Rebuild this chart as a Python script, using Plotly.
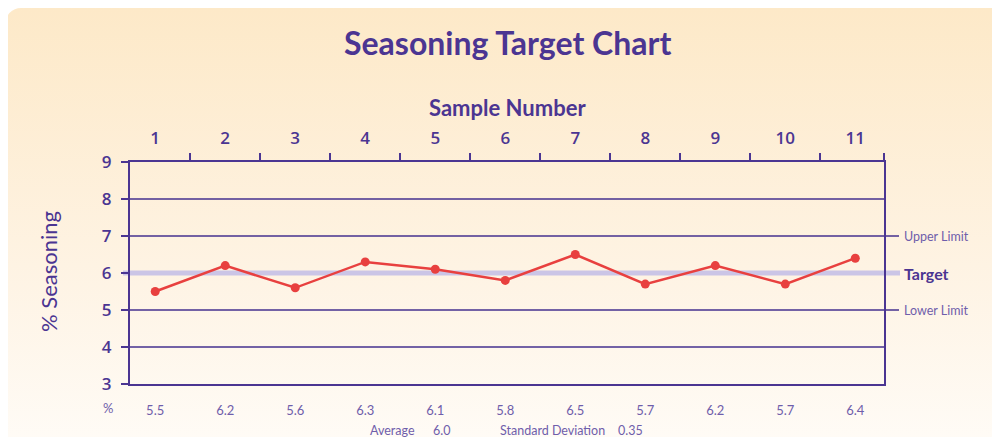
import base64
import plotly.graph_objects as go

# ---- data ----
samples = [1, 2, 3, 4, 5, 6, 7, 8, 9, 10, 11]
seasoning = [5.5, 6.2, 5.6, 6.3, 6.1, 5.8, 6.5, 5.7, 6.2, 5.7, 6.4]
y_ticks = [3, 4, 5, 6, 7, 8, 9]
grid_lines = [4, 5, 7, 8]
upper_limit = 7
target = 6
lower_limit = 5
average = "6.0"
std_dev = "0.35"

PURPLE = "#4b3592"
GRID = "#45308f"
LIGHT_PURPLE = "#6f5eab"
RED = "#e8403f"
TARGET_COL = "#cbc5e6"
FONT = "Lato"
TICK_FONT = "Open Sans"

OFF = 8  # page body margin offset
REF_W, REF_H = 1000, 437
W, H = REF_W - OFF, REF_H - OFF
# plot area in reference pixels
L_REF, R_REF, T_REF, B_REF = 130, 884, 162, 384
ML, MT = L_REF - OFF, T_REF - OFF
MR, MB = W - (R_REF - OFF), H - (B_REF - OFF)
PW, PH = R_REF - L_REF, B_REF - T_REF

# gradient panel background as an SVG image (figure coordinates)
svg = f'''<svg xmlns="http://www.w3.org/2000/svg" width="{W}" height="{H}" viewBox="0 0 {W} {H}">
<defs><linearGradient id="g" x1="0" y1="0" x2="0" y2="1">
<stop offset="0" stop-color="#fde9c8"/>
<stop offset="0.55" stop-color="#fef3e3"/>
<stop offset="1" stop-color="#fffdfa"/>
</linearGradient></defs>
<rect x="{5 - OFF}" y="{8 - OFF}" width="{W + 10}" height="{H + 40}" rx="16" ry="16" fill="url(#g)"/>
</svg>'''
svg_uri = "data:image/svg+xml;base64," + base64.b64encode(svg.encode()).decode()

def px_x(px):  # reference pixel -> paper x
    return (px - L_REF) / PW

def px_y(py):  # reference pixel -> paper y
    return (B_REF - py) / PH

fig = go.Figure()

fig.add_trace(go.Scatter(
    x=samples, y=seasoning, mode="lines+markers",
    line=dict(color=RED, width=2.5),
    marker=dict(color=RED, size=9),
    hoverinfo="x+y", showlegend=False,
))
# invisible companion trace to carry the bottom value axis
fig.add_trace(go.Scatter(
    x=samples, y=seasoning, xaxis="x2", mode="markers",
    marker=dict(opacity=0), hoverinfo="skip", showlegend=False,
))

xr = [0.64, 11.41]
fig.update_layout(
    width=W, height=H,
    margin=dict(l=ML, r=MR, t=MT, b=MB, pad=0),
    paper_bgcolor="white",
    plot_bgcolor="rgba(0,0,0,0)",
    font=dict(family=FONT, color=PURPLE),
    xaxis=dict(
        side="top", range=xr, tickmode="array", tickvals=samples,
        ticktext=[str(s) for s in samples],
        ticks="", showgrid=False, zeroline=False,
        showline=True, linecolor=PURPLE, linewidth=2, mirror=False,
        tickfont=dict(size=17, color=PURPLE, family=TICK_FONT, weight=600),
        ticklabelstandoff=9,
        minor=dict(tickmode="array",
                   tickvals=[s + 0.5 for s in samples[:-1]] + [xr[1]],
                   ticks="outside", ticklen=7, tickwidth=1.5, tickcolor=PURPLE,
                   showgrid=False),
    ),
    xaxis2=dict(
        overlaying="x", side="bottom", range=xr, tickmode="array",
        tickvals=samples, ticktext=[f"{v:.1f}" for v in seasoning],
        ticks="", showgrid=False, zeroline=False,
        showline=True, linecolor=PURPLE, linewidth=2,
        tickfont=dict(size=13, color=LIGHT_PURPLE, family=FONT),
        ticklabelstandoff=13,
    ),
    yaxis=dict(
        range=[3, 9], tickmode="array", tickvals=y_ticks,
        ticks="outside", ticklen=7, tickwidth=1.5, tickcolor=PURPLE,
        showgrid=False,
        zeroline=False, showline=True, linecolor=PURPLE, linewidth=2,
        mirror=True,
        tickfont=dict(size=17, color=PURPLE, family=TICK_FONT, weight=600),
        ticklabelstandoff=6,
    ),
    images=[dict(
        source=svg_uri, xref="paper", yref="paper",
        x=px_x(OFF), y=px_y(OFF), sizex=W / PW, sizey=H / PH,
        xanchor="left", yanchor="top", sizing="stretch", layer="below",
    )],
)

# horizontal grid lines (limits extend past the plot area)
for g in grid_lines:
    x_end = px_x(899) if g in (upper_limit, lower_limit) else 1
    fig.add_shape(type="line", xref="paper", yref="y", x0=0, x1=x_end,
                  y0=g, y1=g, line=dict(color=GRID, width=1.4), layer="below")
# target band
fig.add_shape(type="line", xref="paper", yref="y", x0=px_x(123), x1=px_x(900),
              y0=target, y1=target, line=dict(color=TARGET_COL, width=5),
              layer="below")

ann = []
ann.append(dict(text="Upper Limit", x=px_x(902), y=upper_limit, yref="y",
                xref="paper", xanchor="left", yanchor="middle", showarrow=False,
                font=dict(size=12.5, color=LIGHT_PURPLE, family=FONT)))
ann.append(dict(text="<b>Target</b>", x=px_x(902), y=target, yref="y",
                xref="paper", xanchor="left", yanchor="middle", showarrow=False,
                font=dict(size=16, color=PURPLE, family=FONT)))
ann.append(dict(text="Lower Limit", x=px_x(902), y=lower_limit, yref="y",
                xref="paper", xanchor="left", yanchor="middle", showarrow=False,
                font=dict(size=12.5, color=LIGHT_PURPLE, family=FONT)))
ann.append(dict(text="<b>Seasoning Target Chart</b>", x=px_x(507), y=px_y(42),
                xref="paper", yref="paper", xanchor="center", yanchor="middle",
                showarrow=False, font=dict(size=32, color=PURPLE, family=FONT)))
ann.append(dict(text="<b>Sample Number</b>", x=px_x(507), y=px_y(107),
                xref="paper", yref="paper", xanchor="center", yanchor="middle",
                showarrow=False, font=dict(size=22, color=PURPLE, family=FONT)))
ann.append(dict(text="% Seasoning", x=px_x(48), y=px_y(272), textangle=-90,
                xref="paper", yref="paper", xanchor="center", yanchor="middle",
                showarrow=False, font=dict(size=22, color=PURPLE, family=FONT)))
ann.append(dict(text="%", x=px_x(108), y=px_y(408),
                xref="paper", yref="paper", xanchor="center", yanchor="middle",
                showarrow=False, font=dict(size=13, color=LIGHT_PURPLE, family=FONT)))
stats = [("Average", 392), (average, 441), ("Standard Deviation", 552), (std_dev, 630)]
for txt, xp in stats:
    ann.append(dict(text=txt, x=px_x(xp), y=px_y(430),
                    xref="paper", yref="paper", xanchor="center", yanchor="middle",
                    showarrow=False, font=dict(size=12.5, color=LIGHT_PURPLE, family=FONT)))
fig.update_layout(annotations=ann)

fig.write_html("out.html")
